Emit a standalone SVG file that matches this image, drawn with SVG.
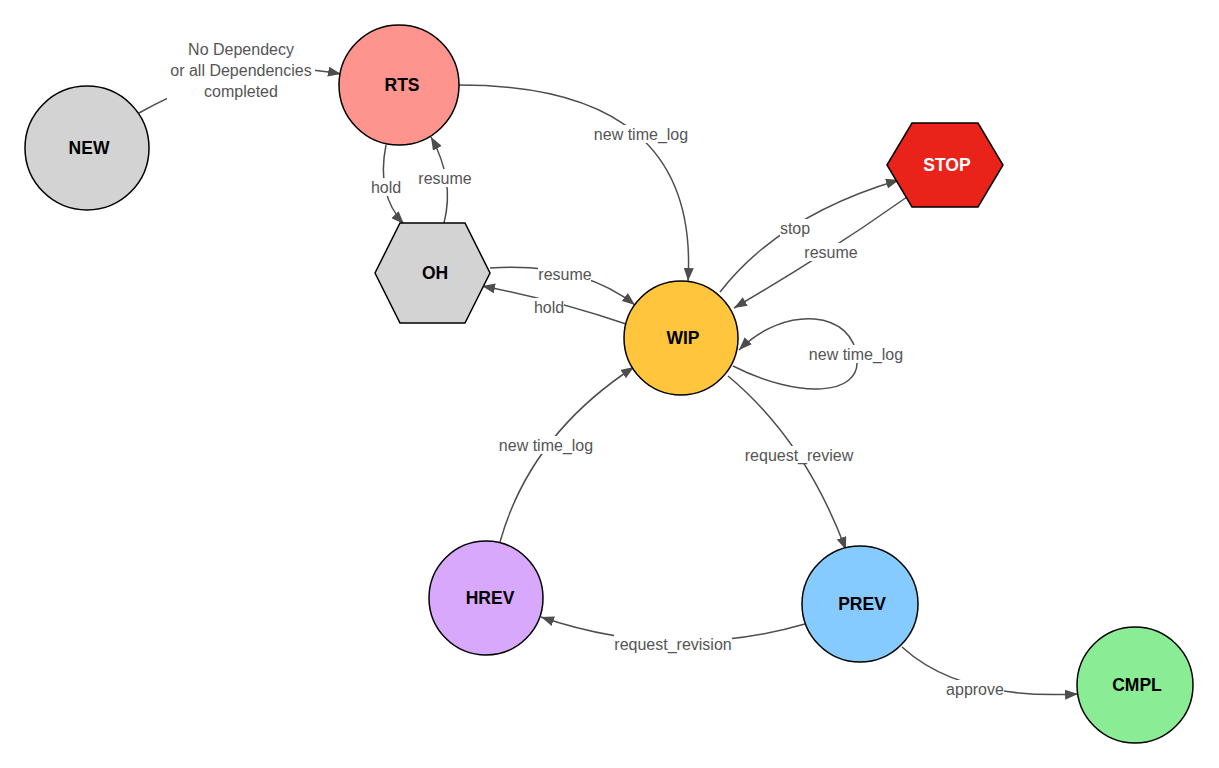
<svg xmlns="http://www.w3.org/2000/svg" width="1219" height="768" viewBox="0 0 1219 768">
  <style>
    .node { stroke: #000; stroke-width: 1.5; }
    .nlabel { font-family: "Liberation Sans", Arial, sans-serif; font-size: 17.5px; font-weight: bold; fill: #000; text-anchor: middle; }
    .edge { fill: none; stroke: #4d4d4d; stroke-width: 1.5; marker-end: url(#arrow); }
    .ebg { fill: #fff; }
    .elabel { font-family: "Liberation Sans", Arial, sans-serif; font-size: 16px; fill: #555; text-anchor: middle; }
  </style>
  <defs>
    <marker id="arrow" viewBox="0 0 13 10" refX="13" refY="5" markerWidth="13" markerHeight="10" markerUnits="userSpaceOnUse" orient="auto">
      <path d="M0,0 L13,5 L0,10 z" fill="#4d4d4d"/>
    </marker>
  </defs>
  <rect width="1219" height="768" fill="#fff"/>

  <!-- transitions -->
  <g id="edges">
    <!-- NEW -> RTS -->
    <path class="edge" d="M139,113 Q240,55 341,74"/>
    <rect class="ebg" x="167" y="39" width="148" height="62"/>
    <text class="elabel" x="241" y="55">No Dependecy</text>
    <text class="elabel" x="241" y="76">or all Dependencies</text>
    <text class="elabel" x="241" y="97">completed</text>

    <!-- RTS -> WIP -->
    <path class="edge" d="M459,85 Q700,85 688,281"/>
    <rect class="ebg" x="594" y="125" width="94" height="18"/>
    <text class="elabel" x="641" y="139.5">new time_log</text>

    <!-- RTS -> OH (hold) -->
    <path class="edge" d="M386,145 Q376,195 404,224"/>
    <rect class="ebg" x="371" y="178" width="30" height="18"/>
    <text class="elabel" x="386" y="192.5">hold</text>

    <!-- OH -> RTS (resume) -->
    <path class="edge" d="M444,223 Q455,180 431,137"/>
    <rect class="ebg" x="419" y="169" width="53" height="18"/>
    <text class="elabel" x="445" y="183.5">resume</text>

    <!-- OH -> WIP (resume) -->
    <path class="edge" d="M490,268 Q580,262 635,305"/>
    <rect class="ebg" x="538" y="265" width="53" height="18"/>
    <text class="elabel" x="565" y="279.5">resume</text>

    <!-- WIP -> OH (hold) -->
    <path class="edge" d="M626,324 Q555,300 482,286"/>
    <rect class="ebg" x="534" y="298" width="30" height="18"/>
    <text class="elabel" x="549" y="312.5">hold</text>

    <!-- WIP -> STOP -->
    <path class="edge" d="M720,292 Q780,215 899,180"/>
    <rect class="ebg" x="780" y="219" width="30" height="18"/>
    <text class="elabel" x="795" y="233.5">stop</text>

    <!-- STOP -> WIP (resume) -->
    <path class="edge" d="M907,197 Q825,255 734,308"/>
    <rect class="ebg" x="804" y="243" width="53" height="18"/>
    <text class="elabel" x="831" y="257.5">resume</text>

    <!-- WIP self loop -->
    <path class="edge" d="M733,366 C800,400 860,395 857,360 C855,310 785,304 739,350"/>
    <rect class="ebg" x="809" y="345" width="94" height="18"/>
    <text class="elabel" x="856" y="359.5">new time_log</text>

    <!-- WIP -> PREV -->
    <path class="edge" d="M728,376 Q805,440 846,550"/>
    <rect class="ebg" x="745" y="446" width="108" height="18"/>
    <text class="elabel" x="799" y="460.5">request_review</text>

    <!-- PREV -> HREV -->
    <path class="edge" d="M805,624 Q673,662 541,617"/>
    <rect class="ebg" x="614" y="635" width="118" height="18"/>
    <text class="elabel" x="673" y="649.5">request_revision</text>

    <!-- HREV -> WIP -->
    <path class="edge" d="M500,542 Q530,435 634,367"/>
    <rect class="ebg" x="499" y="436" width="94" height="18"/>
    <text class="elabel" x="546" y="450.5">new time_log</text>

    <!-- PREV -> CMPL -->
    <path class="edge" d="M902,647 Q960,700 1078,694"/>
    <rect class="ebg" x="946" y="680" width="58" height="18"/>
    <text class="elabel" x="975" y="694.5">approve</text>
  </g>

  <!-- states -->
  <g id="node-NEW">
    <circle class="node" cx="87" cy="148" r="62" fill="#d3d3d3"/>
    <text class="nlabel" x="89" y="154">NEW</text>
  </g>
  <g id="node-RTS">
    <circle class="node" cx="399" cy="85" r="60" fill="#fd948d"/>
    <text class="nlabel" x="402" y="91">RTS</text>
  </g>
  <g id="node-OH">
    <polygon class="node" points="375,273 400,223 465,223 490,273 465,323 400,323" fill="#d3d3d3"/>
    <text class="nlabel" x="435" y="279">OH</text>
  </g>
  <g id="node-STOP">
    <polygon class="node" points="887,165 912,123 978,123 1003,165 978,207 912,207" fill="#e9231a"/>
    <text class="nlabel" x="947" y="171" style="fill:#fff">STOP</text>
  </g>
  <g id="node-WIP">
    <circle class="node" cx="681" cy="338" r="57" fill="#ffc53c"/>
    <text class="nlabel" x="683" y="344">WIP</text>
  </g>
  <g id="node-HREV">
    <circle class="node" cx="486" cy="598" r="57" fill="#d8a8fd"/>
    <text class="nlabel" x="490" y="604">HREV</text>
  </g>
  <g id="node-PREV">
    <circle class="node" cx="860" cy="604" r="58" fill="#85cbff"/>
    <text class="nlabel" x="862" y="610">PREV</text>
  </g>
  <g id="node-CMPL">
    <circle class="node" cx="1135" cy="685" r="58" fill="#8aec94"/>
    <text class="nlabel" x="1137" y="691">CMPL</text>
  </g>
</svg>
